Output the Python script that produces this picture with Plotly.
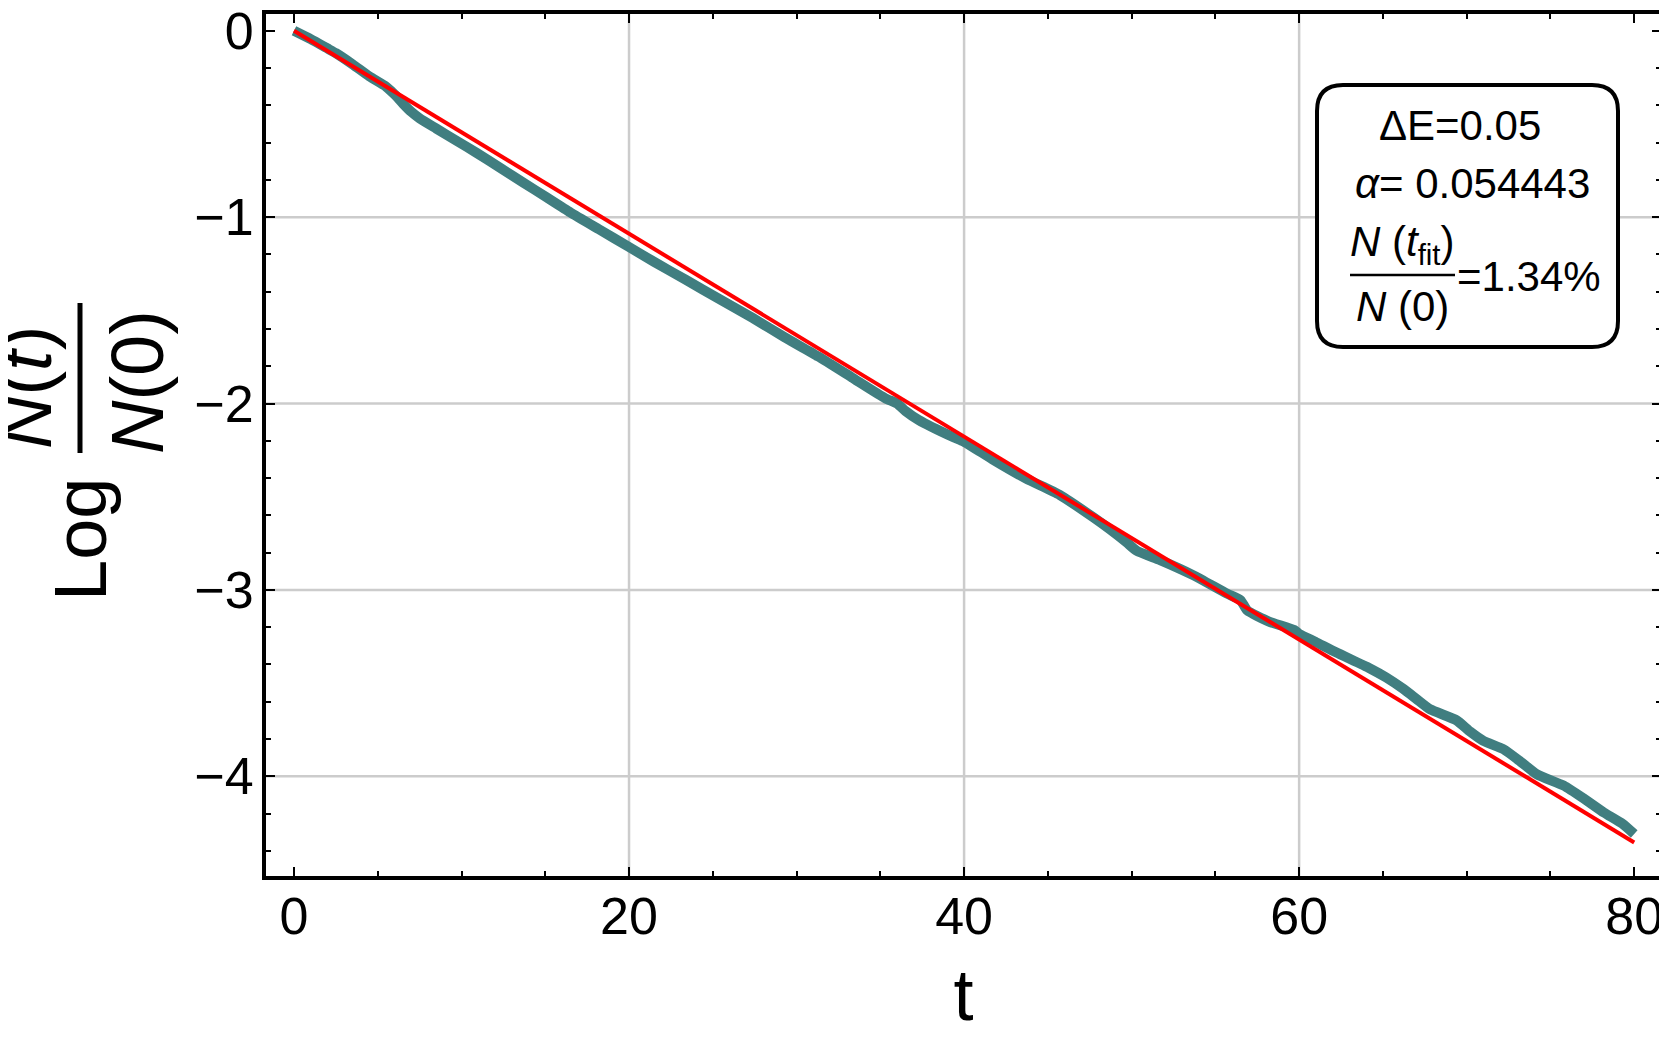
import plotly.graph_objects as go

# valores
t_datos = [0, 1, 2, 2.5, 3.5, 4.5, 5.5, 6.1, 6.5, 7.0, 7.5, 8.5, 9.7, 10.9, 12.3, 13.7,
           15.1, 16.5, 18.2, 20, 21.5, 23.4, 25.4, 27.4, 29.3, 31.3, 33.3, 35.3,
           36, 36.5, 37.3, 39.3, 40, 41.7, 43.7, 45.7, 47.7, 48.7, 49.7, 50.3,
           51.7, 53.7, 55.7, 56.5, 56.9, 58.2, 59.7, 60, 61, 62.2, 64.2, 65.2,
           66.2, 67, 67.8, 69.4, 70.2, 71, 72.2, 73.2, 74.2, 75.8, 77, 78.2, 79.3, 80]
logN_datos = [0, -0.045, -0.095, -0.12, -0.18, -0.245, -0.30, -0.35, -0.39, -0.435,
              -0.47, -0.525, -0.59, -0.655, -0.735, -0.815, -0.895, -0.975, -1.065,
              -1.16, -1.24, -1.337, -1.44, -1.542, -1.645, -1.748, -1.86, -1.972,
              -2.0, -2.04, -2.089, -2.178, -2.205, -2.30, -2.403, -2.49, -2.61,
              -2.675, -2.745, -2.79, -2.84, -2.922, -3.02, -3.055, -3.11, -3.17,
              -3.215, -3.236, -3.28, -3.335, -3.42, -3.47, -3.53, -3.585, -3.64,
              -3.70, -3.76, -3.81, -3.855, -3.92, -3.99, -4.05, -4.12, -4.195,
              -4.255, -4.31]

t_ajuste = [0, 80]
logN_ajuste = [0.0, -4.355]

x_ticks = [0, 20, 40, 60, 80]
y_ticks = [0, -1, -2, -3, -4]
x_grid = [20, 40, 60]
y_grid = [-1, -2, -3, -4]

texto_dE = "ΔE=0.05"
texto_alpha = "<i>α</i>= 0.054443"
texto_num = "<i>N</i> (<i>t</i><sub>fit</sub>)"
texto_den = "<i>N</i> (0)"
texto_pct = "=1.34%"

# geometria en pixeles de la pagina (el body del html tiene 8 px de margen)
ANCHO, ALTO = 1667, 1040
OFF = 8
L, R, T, B = 266, 1661, 14, 876
W, H = R - L, B - T
FIG_W, FIG_H = ANCHO - OFF, ALTO - OFF


def px(x):
    return (x - L) / W


def py(y):
    return (B - y) / H


FUENTE = "Liberation Sans, Arial, sans-serif"

fig = go.Figure()
fig.add_trace(go.Scatter(x=t_datos, y=logN_datos, mode="lines",
                         line=dict(color="#407E80", width=10, shape="spline", smoothing=0.5),
                         showlegend=False))
fig.add_trace(go.Scatter(x=t_ajuste, y=logN_ajuste, mode="lines",
                         line=dict(color="#FF0000", width=4), showlegend=False))

for g in x_grid:
    fig.add_shape(type="line", xref="x", yref="paper", x0=g, x1=g, y0=0, y1=1,
                  line=dict(color="#CCCCCC", width=2.5), layer="below")
for g in y_grid:
    fig.add_shape(type="line", xref="paper", yref="y", x0=0, x1=1, y0=g, y1=g,
                  line=dict(color="#CCCCCC", width=2.5), layer="below")

# caja de texto con esquinas redondeadas
bx0, bx1, by0, by1, rad = 1317, 1618, 85, 347, 26
x0, x1, yt, yb = px(bx0), px(bx1), py(by0), py(by1)
rx, ry = rad / W, rad / H
camino = (f"M {x0+rx},{yt} L {x1-rx},{yt} Q {x1},{yt} {x1},{yt-ry} "
          f"L {x1},{yb+ry} Q {x1},{yb} {x1-rx},{yb} L {x0+rx},{yb} "
          f"Q {x0},{yb} {x0},{yb+ry} L {x0},{yt-ry} Q {x0},{yt} {x0+rx},{yt} Z")
fig.add_shape(type="path", path=camino, xref="paper", yref="paper",
              fillcolor="white", line=dict(color="black", width=4), layer="above")
fig.add_shape(type="line", xref="paper", yref="paper", x0=px(1350), x1=px(1455),
              y0=py(275), y1=py(275), line=dict(color="black", width=2.5), layer="above")

f_caja = dict(family=FUENTE, size=42, color="black")
anot = [
    dict(text=texto_dE, x=px(1460), y=py(125), xanchor="center", yanchor="middle", font=f_caja),
    dict(text=texto_alpha, x=px(1472), y=py(183), xanchor="center", yanchor="middle", font=f_caja),
    dict(text=texto_num, x=px(1402), y=py(245), xanchor="center", yanchor="middle", font=f_caja),
    dict(text=texto_den, x=px(1402), y=py(306), xanchor="center", yanchor="middle", font=f_caja),
    dict(text=texto_pct, x=px(1455), y=py(277), xanchor="left", yanchor="middle", font=f_caja),
]

# titulo del eje y: Log N(t)/N(0)
f_tit = dict(family=FUENTE, size=74, color="black")
anot += [
    dict(text="Log", x=px(80), y=py(540), xanchor="center", yanchor="middle",
         textangle=-90, font=f_tit),
    dict(text="<i>N</i>(<i>t</i>)", x=px(25), y=py(388), xanchor="center", yanchor="middle",
         textangle=-90, font=f_tit),
    dict(text="<i>N</i>(0)", x=px(137), y=py(382), xanchor="center", yanchor="middle",
         textangle=-90, font=f_tit),
]
fig.add_shape(type="line", xref="paper", yref="paper", x0=px(80), x1=px(80),
              y0=py(303), y1=py(453), line=dict(color="black", width=5))

for a in anot:
    a.update(xref="paper", yref="paper", showarrow=False)
    fig.add_annotation(**a)

eje = dict(showline=True, linewidth=4, linecolor="black", mirror="allticks",
           ticks="inside", ticklen=9, tickwidth=2, tickcolor="black",
           showgrid=False, zeroline=False, automargin=False, ticklabeloverflow="allow",
           tickfont=dict(family=FUENTE, size=52, color="black"))

fig.update_xaxes(**eje, range=[-1.67, 81.6], tickvals=x_ticks,
                 minor=dict(dtick=5, ticks="inside", ticklen=5, tickwidth=1.5, tickcolor="black"),
                 ticklabelstandoff=-8,
                 title=dict(text="t", font=dict(family=FUENTE, size=72, color="black"), standoff=26))
fig.update_yaxes(**eje, range=[-4.535, 0.09], tickvals=y_ticks,
                 minor=dict(dtick=0.2, ticks="inside", ticklen=5, tickwidth=1.5, tickcolor="black"),
                 ticklabelstandoff=-2)

fig.update_layout(width=FIG_W, height=FIG_H, autosize=False,
                  margin=dict(l=L - OFF, r=FIG_W - (R - OFF), t=T - OFF, b=FIG_H - (B - OFF)),
                  plot_bgcolor="white", paper_bgcolor="white")

fig.write_html("out.html")
